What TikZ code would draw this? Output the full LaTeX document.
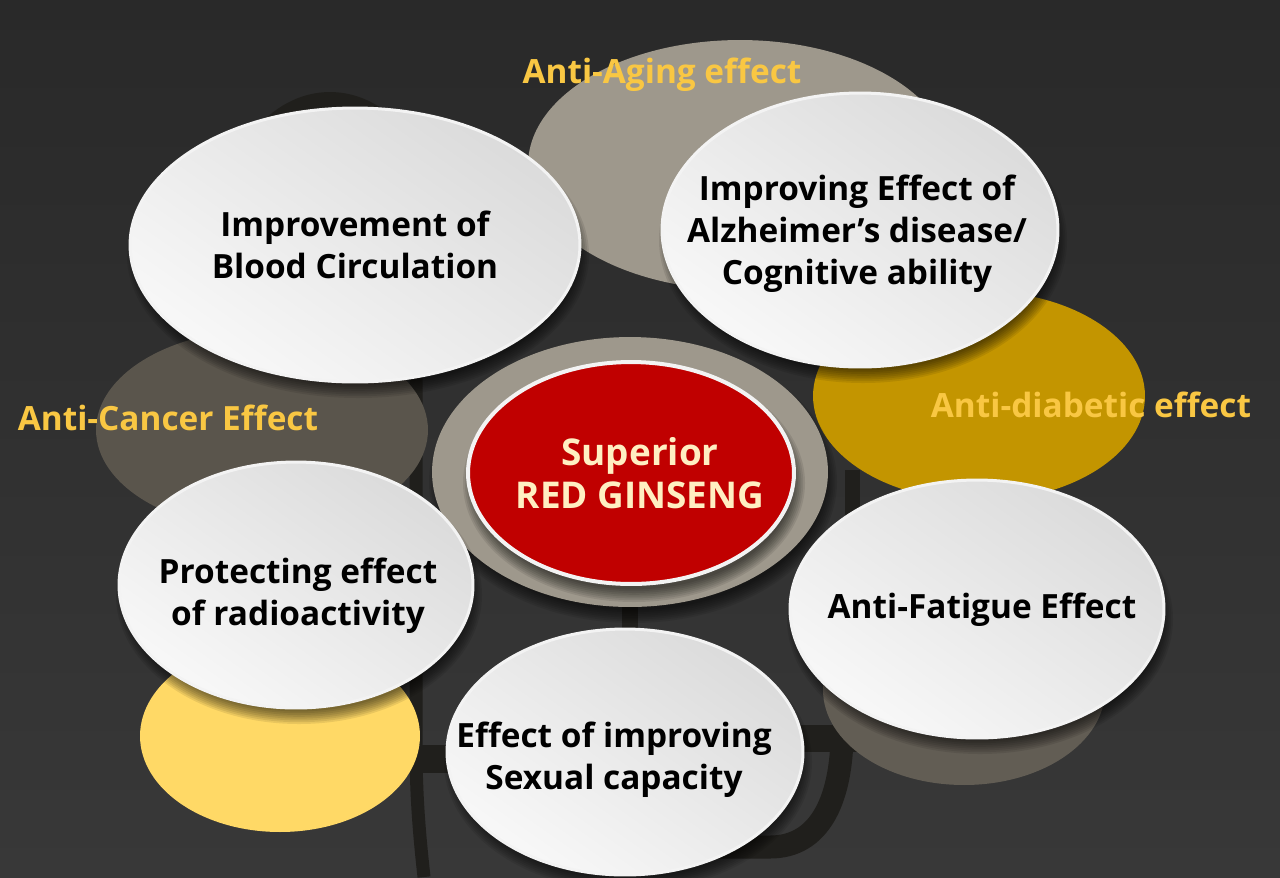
\documentclass[tikz,border=0pt]{standalone}
\usepackage{fontspec}
\setmainfont{Open Sans}
\usetikzlibrary{shapes.geometric}
\definecolor{bgtop}{HTML}{292929}
\definecolor{bgbot}{HTML}{383838}
\definecolor{rootc}{HTML}{201F1C}
\definecolor{agegray}{HTML}{9E988C}
\definecolor{taupe}{HTML}{5A554C}
\definecolor{taupetwo}{HTML}{625D54}
\definecolor{goldc}{HTML}{C39500}
\definecolor{yelc}{HTML}{FFD966}
\definecolor{labelc}{HTML}{F9C743}
\definecolor{redc}{HTML}{C00000}
\definecolor{creamc}{HTML}{FFEFC2}
\definecolor{wlight}{HTML}{F8F8F8}
\definecolor{wdark}{HTML}{DBDBDB}
\definecolor{wedge}{HTML}{F3F3F3}
\newcommand\mysoftshadow[4]{%
  \foreach \k in {0,...,7}{%
    \fill[black,opacity=0.085] ({#1+3},{#2+10}) ellipse [x radius={(#3+6-1.8*\k)*0.02cm}, y radius={(#4+6-1.8*\k)*0.02cm}];
  }}
\begin{document}
\begin{tikzpicture}[x=0.02cm,y=-0.02cm,
  blob/.style={ellipse, inner sep=0pt, draw=none},
  whiteel/.style={ellipse, inner sep=0pt, draw=wedge, line width=0.06cm,
     top color=wdark, bottom color=wlight, shading angle=-35},
  wtext/.style={align=center, inner sep=0pt, text=black,
     font=\bfseries\fontsize{19}{23.8}\selectfont},
  lab/.style={inner sep=0pt, text=labelc, font=\bfseries\fontsize{19}{23}\selectfont},
  root/.style={draw=rootc, line cap=butt}]
\useasboundingbox (0,0) rectangle (1280,877);
\fill[top color=bgtop, bottom color=bgbot] (0,0) rectangle (1280,877);

% dark root structure
\coordinate (r1) at (416,372);
\coordinate (r2) at (416,745);
\coordinate (r3) at (424,877);
\draw[root, line width=0.26cm] (r1) -- (r2) .. controls (416,800) and (420,840) .. (r3);
\coordinate (h1) at (410,759);
\coordinate (h2) at (455,759);
\draw[root, line width=0.56cm] (h1) -- (h2);
\coordinate (v1) at (852,470);
\coordinate (v2) at (852,738);
\draw[root, line width=0.3cm] (v1) -- (v2);
\coordinate (g1) at (790,738);
\coordinate (g2) at (859,738);
\draw[root, line width=0.54cm] (g1) -- (g2);
\coordinate (c1) at (842,740);
\coordinate (c2) at (770,847);
\coordinate (c3) at (690,847);
\draw[root, line width=0.46cm] (c1) .. controls (840,800) and (820,847) .. (c2) -- (c3);
\coordinate (m1) at (630,595);
\coordinate (m2) at (630,645);
\draw[root, line width=0.32cm] (m1) -- (m2);

% background blobs
\node[blob, fill=rootc, minimum width=4.4cm, minimum height=5.6cm] (darkel) at (330,232) {};
\node[blob, fill=agegray, minimum width=8.48cm, minimum height=5cm] (aging) at (740,165) {};
\node[blob, fill=taupe, minimum width=6.64cm, minimum height=4cm] (cancer) at (262,430) {};
\node[blob, fill=goldc, minimum width=6.64cm, minimum height=4.2cm] (diab) at (979,396) {};
\node[blob, fill=yelc, minimum width=5.6cm, minimum height=3.84cm] (yel) at (280,736) {};
\node[blob, fill=taupetwo, minimum width=5.64cm, minimum height=3.8cm] (lowtaupe) at (964,690) {};

% center
\mysoftshadow{630}{472}{198}{135}
\node[blob, fill=agegray, minimum width=7.92cm, minimum height=5.4cm] (ring) at (630,472) {};
\mysoftshadow{631}{473}{165}{113}
\node[ellipse, inner sep=0pt, fill=redc, draw=wedge, line width=0.08cm,
      minimum width=6.52cm, minimum height=4.44cm] (red) at (631,473) {};
\node[align=center, inner sep=0pt, text=creamc, font=\bfseries\fontsize{21}{24.4}\selectfont]
      (redtext) at (640,473) {Superior\\RED GINSENG};

% white ellipses
\mysoftshadow{355}{245}{225}{137}
\node[whiteel, minimum width=9cm, minimum height=5.48cm] (blood) at (355,245) {};
\node[wtext] (bloodtext) at (355,245) {Improvement of\\Blood Circulation};

\mysoftshadow{860}{230}{198}{137}
\node[whiteel, minimum width=7.92cm, minimum height=5.48cm] (alz) at (860,230) {};
\node[wtext] (alztext) at (857,234) {Improving Effect of\\Alzheimer’s disease/\\Cognitive ability};

\mysoftshadow{296}{585}{177}{123}
\node[whiteel, minimum width=7.08cm, minimum height=4.92cm] (prot) at (296,585) {};
\node[wtext] (prottext) at (298,596) {Protecting effect\\of radioactivity};

\mysoftshadow{625}{752}{178}{123}
\node[whiteel, minimum width=7.12cm, minimum height=4.92cm] (sex) at (625,752) {};
\node[wtext] (sextext) at (614,760) {Effect of improving\\Sexual capacity};

\mysoftshadow{977}{609}{187}{129}
\node[whiteel, minimum width=7.48cm, minimum height=5.16cm] (fat) at (977,609) {};
\node[wtext] (fattext) at (982,610) {Anti-Fatigue Effect};

% labels
\node[lab] (agelab) at (662,75) {Anti-Aging effect};
\node[lab] (cancerlab) at (168,418) {Anti-Cancer Effect};
\node[lab] (diablab) at (1091,405) {Anti-diabetic effect};
\end{tikzpicture}
\end{document}
